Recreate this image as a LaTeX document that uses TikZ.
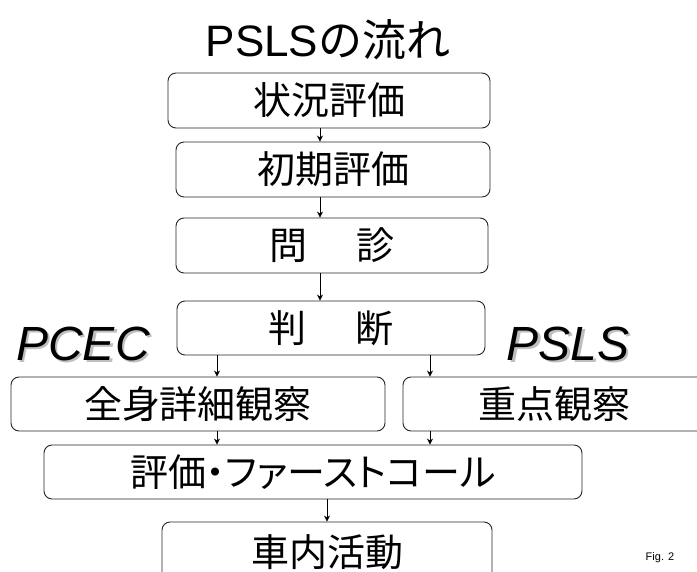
\documentclass[tikz,border=0pt]{standalone}
\usepackage{fontspec}
\setmainfont{Liberation Sans}
\newfontfamily\jp{Noto Sans CJK JP}
\newfontfamily\jpp[RawFeature=+palt]{Noto Sans CJK JP}
\usetikzlibrary{arrows.meta}
\newcommand{\shadowtext}[1]{\rlap{\hspace{2.5pt}\raisebox{-2.5pt}{\color{black!25}#1}}#1}
\begin{document}
\begin{tikzpicture}[x=1pt,y=-1pt,
  box/.style={draw=black!85, line width=0.9pt, rounded corners=8pt, inner sep=0pt,
    font=\jp\fontsize{38}{40}\selectfont},
  arr/.style={-{Stealth[length=6pt,width=6pt]}, line width=0.8pt},
  side/.style={font=\itshape\fontsize{48}{50}\selectfont, inner sep=0pt}]
\useasboundingbox (0,0) rectangle (697,572);
\clip (0,0) rectangle (697,572);
% title
\node[inner sep=0pt, font=\fontsize{44}{46}\selectfont] (title) at (328,40) {PSLS{\jp の流れ}};
% boxes
\node[box, minimum width=322pt, minimum height=55pt] (b1) at (329,100.5) {状況評価};
\node[box, minimum width=314pt, minimum height=55pt] (b2) at (333,169.5) {初期評価};
\node[box, minimum width=312pt, minimum height=55pt] (b3) at (332,245.5) {問\hspace{1.3em}診};
\node[box, minimum width=308pt, minimum height=54pt] (b4) at (331,328) {判\hspace{1.3em}断};
\node[box, minimum width=374pt, minimum height=54pt] (bl) at (198,404) {全身詳細観察};
\node[box, minimum width=302pt, minimum height=54pt] (br) at (554,404) {重点観察};
\node[box, minimum width=538pt, minimum height=54pt, font=\jpp\fontsize{38}{40}\selectfont] (be) at (313,472) {評価・ファーストコール};
\node[box, minimum width=330pt, minimum height=60pt] (bv) at (327,552) {車内活動};
% side labels with shadow
\node[side] (pcec) at (83,345) {\shadowtext{PCEC}};
\node[side] (psls) at (568,345) {\shadowtext{PSLS}};
% figure label
\node[inner sep=0pt, font=\fontsize{11}{13}\selectfont] (fig) at (660,558) {Fig. 2};
% arrow columns
\coordinate (xa) at (320,0);
\coordinate (xl) at (217,0);
\coordinate (xr) at (430,0);
\coordinate (xv) at (327,0);
\draw[arr] (b1.south -| xa) -- (b2.north -| xa);
\draw[arr] (b2.south -| xa) -- (b3.north -| xa);
\draw[arr] (b3.south -| xa) -- (b4.north -| xa);
\draw[arr] (b4.south -| xl) -- (bl.north -| xl);
\draw[arr] (b4.south -| xr) -- (br.north -| xr);
\draw[arr] (bl.south -| xl) -- (be.north -| xl);
\draw[arr] (br.south -| xr) -- (be.north -| xr);
\draw[arr] (be.south -| xv) -- (bv.north -| xv);
\end{tikzpicture}
\end{document}
